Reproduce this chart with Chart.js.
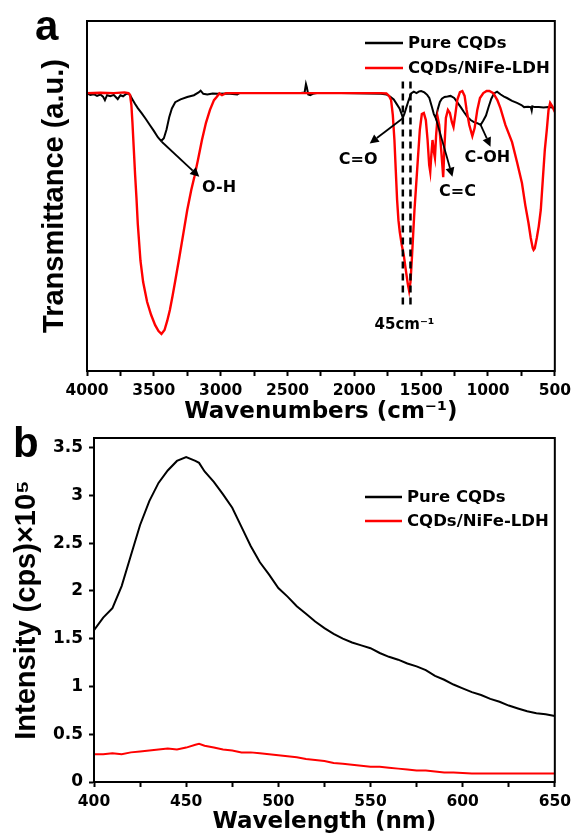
<!DOCTYPE html>
<html>
<head>
<meta charset="utf-8">
<script src="https://cdn.jsdelivr.net/npm/chart.js@4.4.1/dist/chart.umd.min.js"></script>
<style>
  html, body { margin: 0; padding: 0; background: #fff; }
  #wrap { position: relative; width: 577px; height: 840px; overflow: hidden; }
  #ftir { position: absolute; left: 0; top: 0; }
  #pl { position: absolute; left: 0; top: 420px; }
</style>
</head>
<body>
<div id="wrap">
  <canvas id="ftir" width="577" height="430"></canvas>
  <canvas id="pl" width="577" height="420"></canvas>
</div>
<script>
// ---- (a) FTIR, transmittance in arbitrary units ----
const ftirPureWn = [4000, 3975, 3950, 3925, 3900, 3880, 3866, 3850, 3825, 3800, 3785, 3770, 3750, 3730, 3710, 3690, 3675, 3660, 3640, 3620, 3590, 3560, 3530, 3500, 3470, 3445, 3425, 3405, 3385, 3365, 3340, 3300, 3250, 3200, 3165, 3150, 3130, 3100, 3060, 3020, 2950, 2876, 2860, 2800, 2600, 2400, 2372, 2362, 2355, 2345, 2330, 2310, 2280, 2100, 1900, 1800, 1760, 1730, 1705, 1685, 1662, 1648, 1637, 1625, 1610, 1595, 1575, 1555, 1535, 1515, 1500, 1476, 1455, 1439, 1420, 1405, 1390, 1375, 1360, 1345, 1325, 1303, 1280, 1253, 1228, 1204, 1180, 1154, 1130, 1105, 1080, 1055, 1035, 1015, 995, 975, 955, 932, 905, 880, 858, 820, 783, 750, 730, 700, 680, 673, 668, 650, 620, 584, 550, 520, 500];
const ftirPureT = [79.3, 78.9, 79.1, 78.6, 79.0, 78.4, 77.4, 78.8, 78.5, 78.9, 78.3, 77.7, 78.8, 78.5, 79.1, 79.3, 78.6, 77.6, 76.3, 75.1, 73.6, 72.0, 70.3, 68.6, 66.8, 65.7, 66.5, 69.0, 72.5, 75.0, 76.8, 77.6, 78.3, 78.8, 79.6, 80.1, 79.2, 79.0, 79.3, 79.2, 79.3, 79.0, 79.4, 79.4, 79.4, 79.4, 79.6, 82.0, 81.0, 79.0, 78.8, 79.2, 79.4, 79.4, 79.3, 79.2, 79.0, 78.3, 77.6, 76.4, 75.0, 73.6, 72.4, 73.5, 75.4, 77.2, 79.3, 79.8, 79.4, 79.9, 80.0, 79.6, 78.9, 78.0, 75.5, 73.4, 72.2, 74.9, 76.9, 77.8, 78.3, 78.4, 78.6, 78.0, 76.7, 75.4, 74.0, 72.6, 71.7, 71.1, 70.8, 70.3, 71.6, 73.0, 75.5, 77.8, 79.3, 79.8, 79.0, 78.4, 78.0, 77.2, 76.6, 76.0, 75.4, 75.5, 75.4, 74.4, 75.6, 75.4, 75.4, 75.3, 75.4, 75.3, 75.1];

const ftirHybWn = [4000, 3900, 3800, 3720, 3690, 3678, 3668, 3660, 3650, 3640, 3630, 3620, 3600, 3580, 3550, 3520, 3490, 3465, 3443, 3420, 3400, 3380, 3360, 3340, 3310, 3280, 3250, 3220, 3197, 3170, 3140, 3110, 3080, 3050, 3030, 3010, 2990, 2960, 2900, 2500, 2000, 1800, 1760, 1740, 1725, 1712, 1700, 1690, 1680, 1670, 1660, 1645, 1630, 1615, 1600, 1590, 1580, 1570, 1560, 1550, 1540, 1525, 1510, 1495, 1480, 1465, 1452, 1440, 1432, 1424, 1415, 1405, 1397, 1388, 1377, 1365, 1350, 1335, 1325, 1315, 1300, 1285, 1270, 1258, 1245, 1230, 1210, 1192, 1175, 1160, 1140, 1117, 1100, 1080, 1060, 1035, 1010, 990, 960, 930, 907, 870, 820, 783, 746, 721, 697, 680, 665, 659, 650, 635, 620, 605, 590, 575, 560, 547, 535, 520, 500];
const ftirHybT = [79.4, 79.5, 79.4, 79.6, 79.4, 78.9, 76.0, 71.0, 63.5, 56.0, 49.5, 42.0, 31.5, 25.4, 19.7, 16.0, 13.1, 11.4, 10.6, 11.7, 14.3, 17.4, 21.4, 25.7, 32.3, 39.1, 46.0, 51.7, 55.4, 60.3, 66.0, 70.9, 74.6, 77.4, 78.3, 79.3, 78.8, 79.4, 79.4, 79.4, 79.4, 79.4, 79.3, 78.6, 77.4, 73.1, 66.0, 57.4, 48.9, 43.1, 39.7, 36.0, 33.1, 28.9, 24.9, 22.9, 25.4, 31.7, 38.9, 46.0, 51.7, 60.3, 68.9, 73.4, 73.7, 71.7, 66.0, 58.9, 56.9, 61.7, 66.0, 62.6, 60.9, 67.4, 72.6, 70.3, 63.1, 55.4, 64.6, 72.3, 74.6, 73.7, 71.1, 69.7, 73.1, 77.4, 79.7, 80.0, 78.6, 74.6, 70.3, 67.1, 69.4, 74.6, 78.0, 79.4, 80.0, 80.0, 79.4, 77.4, 75.1, 70.3, 65.4, 59.7, 53.7, 47.4, 42.3, 38.0, 35.1, 34.6, 35.1, 38.0, 41.4, 46.0, 54.6, 63.1, 68.9, 74.6, 76.6, 75.7, 74.0];

// ---- (b) PL spectra, intensity x10^5 cps ----
const plWl = [400, 405, 410, 415, 420, 425, 430, 435, 440, 445, 450, 455, 457, 460, 465, 470, 475, 480, 485, 490, 495, 500, 505, 510, 515, 520, 525, 530, 535, 540, 545, 550, 555, 560, 565, 570, 575, 580, 585, 590, 595, 600, 605, 610, 615, 620, 625, 630, 635, 640, 645, 650];
const plPure = [1.59, 1.72, 1.82, 2.05, 2.37, 2.69, 2.94, 3.13, 3.26, 3.36, 3.40, 3.36, 3.34, 3.25, 3.14, 3.01, 2.87, 2.67, 2.47, 2.30, 2.17, 2.03, 1.94, 1.84, 1.76, 1.68, 1.61, 1.55, 1.50, 1.46, 1.43, 1.40, 1.35, 1.31, 1.28, 1.24, 1.21, 1.17, 1.11, 1.07, 1.02, 0.98, 0.94, 0.91, 0.87, 0.84, 0.80, 0.77, 0.74, 0.72, 0.71, 0.69];
const plHyb = [0.29, 0.29, 0.30, 0.29, 0.31, 0.32, 0.33, 0.34, 0.35, 0.34, 0.36, 0.39, 0.40, 0.38, 0.36, 0.34, 0.33, 0.31, 0.31, 0.30, 0.29, 0.28, 0.27, 0.26, 0.24, 0.23, 0.22, 0.20, 0.19, 0.18, 0.17, 0.16, 0.16, 0.15, 0.14, 0.13, 0.12, 0.12, 0.11, 0.10, 0.10, 0.095, 0.09, 0.09, 0.09, 0.09, 0.09, 0.09, 0.09, 0.088, 0.088, 0.088];

const seriesNames = ["Pure CQDs", "CQDs/NiFe-LDH"];
const seriesColors = ["#000000", "#ff0000"];

const zip = (xs, ys) => xs.map((x, i) => ({ x: x, y: ys[i] }));

const tickFont = { family: "DejaVu Sans", weight: "bold", size: 15.5 };
const xTitleFont = { family: "DejaVu Sans", weight: "bold", size: 23 };
const yTitleFont = { family: "Liberation Sans", weight: "bold", size: 29 };

// draws the box, legend, panel letter, arrows and peak labels
const marksPlugin = {
  id: "marks",
  afterDraw(chart, args, o) {
    const { ctx, chartArea: a, scales } = chart;
    const px = (v) => scales.x.getPixelForValue(v);
    const py = (v) => scales.y.getPixelForValue(v);
    ctx.save();
    ctx.strokeStyle = "#000";
    ctx.lineWidth = 2;
    ctx.strokeRect(a.left, a.top, a.right - a.left, a.bottom - a.top);

    // dashed guide lines
    (o.dashes || []).forEach((d) => {
      ctx.save();
      ctx.lineWidth = 2.5;
      ctx.setLineDash([7, 5]);
      ctx.beginPath();
      ctx.moveTo(px(d.x), py(d.y1));
      ctx.lineTo(px(d.x), py(d.y0));
      ctx.stroke();
      ctx.restore();
    });

    // arrows
    (o.arrows || []).forEach((ar) => {
      const x0 = px(ar.from[0]), y0 = py(ar.from[1]);
      const x1 = px(ar.to[0]), y1 = py(ar.to[1]);
      const ang = Math.atan2(y1 - y0, x1 - x0);
      const hl = 9, hw = 4.5;
      ctx.lineWidth = 1.8;
      ctx.beginPath();
      ctx.moveTo(x0, y0);
      ctx.lineTo(x1 - hl * Math.cos(ang), y1 - hl * Math.sin(ang));
      ctx.stroke();
      ctx.fillStyle = "#000";
      ctx.beginPath();
      ctx.moveTo(x1, y1);
      ctx.lineTo(x1 - hl * Math.cos(ang) + hw * Math.sin(ang), y1 - hl * Math.sin(ang) - hw * Math.cos(ang));
      ctx.lineTo(x1 - hl * Math.cos(ang) - hw * Math.sin(ang), y1 - hl * Math.sin(ang) + hw * Math.cos(ang));
      ctx.closePath();
      ctx.fill();
    });

    // peak labels
    ctx.fillStyle = "#000";
    ctx.textAlign = "center";
    ctx.textBaseline = "middle";
    (o.labels || []).forEach((l) => {
      ctx.font = "bold " + (l.size || 16) + "px 'DejaVu Sans'";
      ctx.fillText(l.text, px(l.at[0]), py(l.at[1]));
    });

    // legend
    const lg = o.legend;
    ctx.textAlign = "left";
    ctx.font = "bold 16.5px 'DejaVu Sans'";
    chart.data.datasets.forEach((ds, i) => {
      const y = lg.y + i * lg.gap;
      ctx.strokeStyle = ds.borderColor;
      ctx.lineWidth = 2.5;
      ctx.beginPath();
      ctx.moveTo(lg.x0, y);
      ctx.lineTo(lg.x1, y);
      ctx.stroke();
      ctx.fillStyle = "#000";
      ctx.fillText(ds.label, lg.tx, y + 1);
    });

    // panel letter
    ctx.textBaseline = "alphabetic";
    ctx.font = "bold 42px 'Liberation Sans'";
    ctx.fillText(o.letter.text, o.letter.x, o.letter.y);
    ctx.restore();
  },
};

new Chart(document.getElementById("ftir"), {
  type: "line",
  data: {
    datasets: [
      { label: seriesNames[0], data: zip(ftirPureWn, ftirPureT), borderColor: seriesColors[0], borderWidth: 2, pointRadius: 0, order: 1 },
      { label: seriesNames[1], data: zip(ftirHybWn, ftirHybT), borderColor: seriesColors[1], borderWidth: 2.4, pointRadius: 0, order: 0 },
    ],
  },
  options: {
    responsive: false,
    animation: false,
    events: [],
    layout: { padding: { top: 21, right: 19, left: 0, bottom: 0 } },
    plugins: {
      legend: { display: false },
      tooltip: { enabled: false },
      marks: {
        legend: { x0: 365, x1: 403, tx: 408, y: 43, gap: 25 },
        letter: { text: "a", x: 35, y: 40 },
        dashes: [
          { x: 1637, y0: 18.4, y1: 82.7 },
          { x: 1580, y0: 18.4, y1: 82.7 },
        ],
        arrows: [
          { from: [3441, 65.5], to: [3160, 55.5] },
          { from: [1637, 72.2], to: [1885, 65] },
          { from: [1390, 72.2], to: [1266, 55.5] },
          { from: [1055, 70.3], to: [981, 64.1] },
        ],
        labels: [
          { text: "O-H", at: [3012, 52.3] },
          { text: "C=O", at: [1971, 60.3] },
          { text: "C=C", at: [1228, 51.1] },
          { text: "C-OH", at: [1005, 60.9] },
          { text: "45cm⁻¹", at: [1625, 13.1], size: 15 },
        ],
      },
    },
    scales: {
      x: {
        type: "linear",
        reverse: true,
        min: 500,
        max: 4000,
        ticks: {
          stepSize: 250,
          autoSkip: false,
          maxRotation: 0,
          includeBounds: false,
          padding: 6,
          color: "#000",
          font: tickFont,
          callback: (v) => (v % 500 === 0 ? String(v) : ""),
        },
        grid: { drawOnChartArea: false, tickLength: 5, tickWidth: 2, tickColor: "#000" },
        border: { color: "#000", width: 2 },
        title: { display: true, text: "Wavenumbers (cm⁻¹)", color: "#000", font: xTitleFont, padding: { top: 0, bottom: 4 } },
        afterFit: (s) => { s.height = 59; },
      },
      y: {
        min: 0,
        max: 100,
        ticks: { display: false },
        grid: { drawOnChartArea: false, drawTicks: false },
        border: { color: "#000", width: 2 },
        title: { display: true, text: "Transmittance (a.u.)", color: "#000", font: yTitleFont, padding: { top: 38, bottom: 0 } },
        afterFit: (s) => { s.width = 87; },
      },
    },
  },
  plugins: [marksPlugin],
});

new Chart(document.getElementById("pl"), {
  type: "line",
  data: {
    datasets: [
      { label: seriesNames[0], data: zip(plWl, plPure), borderColor: seriesColors[0], borderWidth: 2, pointRadius: 0, order: 1 },
      { label: seriesNames[1], data: zip(plWl, plHyb), borderColor: seriesColors[1], borderWidth: 2, pointRadius: 0, order: 0 },
    ],
  },
  options: {
    responsive: false,
    animation: false,
    events: [],
    layout: { padding: { top: 18, right: 20, left: 0, bottom: 0 } },
    plugins: {
      legend: { display: false },
      tooltip: { enabled: false },
      marks: {
        legend: { x0: 365, x1: 402, tx: 407, y: 77, gap: 24 },
        letter: { text: "b", x: 13, y: 37 },
      },
    },
    scales: {
      x: {
        type: "linear",
        min: 400,
        max: 650,
        ticks: {
          stepSize: 25,
          autoSkip: false,
          maxRotation: 0,
          includeBounds: false,
          padding: 6,
          color: "#000",
          font: tickFont,
          callback: (v) => (v % 50 === 0 ? String(v) : ""),
        },
        grid: { drawOnChartArea: false, tickLength: 5, tickWidth: 2, tickColor: "#000" },
        border: { color: "#000", width: 2 },
        title: { display: true, text: "Wavelength (nm)", color: "#000", font: xTitleFont, padding: { top: 0, bottom: 4 } },
        afterFit: (s) => { s.height = 58; },
      },
      y: {
        min: 0,
        max: 3.6,
        ticks: {
          stepSize: 0.5,
          includeBounds: false,
          padding: 6,
          color: "#000",
          font: { family: "DejaVu Sans", weight: "bold", size: 17 },
          callback: (v) => String(v),
        },
        grid: { drawOnChartArea: false, tickLength: 5, tickWidth: 2, tickColor: "#000" },
        border: { color: "#000", width: 2 },
        title: { display: true, text: "Intensity (cps)×10⁵", color: "#000", font: yTitleFont, padding: { top: 10, bottom: 0 } },
        afterFit: (s) => { s.width = 94; },
      },
    },
  },
  plugins: [marksPlugin],
});
</script>
</body>
</html>
